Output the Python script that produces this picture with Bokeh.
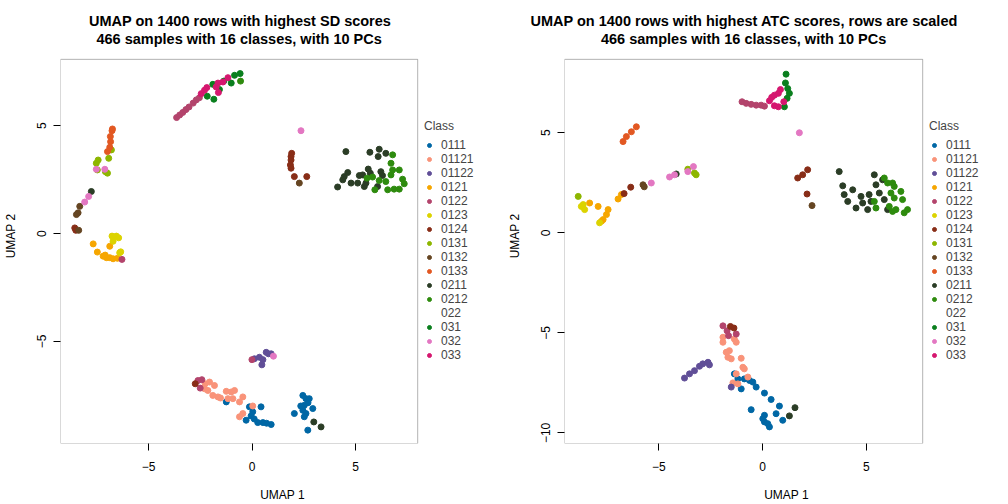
from bokeh.plotting import figure
from bokeh.layouts import row
from bokeh.models import (Legend, LegendItem, FixedTicker, Range1d, ColumnDataSource,
                          BoxAnnotation, Label, Title)
from bokeh.embed import file_html
from bokeh.resources import INLINE

CLASSES = ["0111", "01121", "01122", "0121", "0122", "0123", "0124", "0131",
           "0132", "0133", "0211", "0212", "022", "031", "032", "033"]
COLORS = ["#0067A5", "#F99379", "#604E97", "#F6A600", "#B3446C", "#DCD300", "#882D17", "#8DB600",
          "#654522", "#E25822", "#2B3D26", "#2E8B0E", "#FFFFFF", "#0A7F1E", "#E377C2", "#D5176F"]

TITLE_SD = ["UMAP on 1400 rows with highest SD scores", "466 samples with 16 classes, with 10 PCs"]
TITLE_ATC = ["UMAP on 1400 rows with highest ATC scores, rows are scaled", "466 samples with 16 classes, with 10 PCs"]
X_LABEL = "UMAP 1"
Y_LABEL = "UMAP 2"
SD_XTICKS = [-5, 0, 5]
SD_YTICKS = [-5, 0, 5]
ATC_XTICKS = [-5, 0, 5]
ATC_YTICKS = [-10, -5, 0, 5]

# ---------------- SD panel ----------------
SD_0111_X = [-1.25, -0.13, 0.03, -0.05, 0.43, -0.29, 0.27, 0.52, 0.92, 2.45, 2.60, 2.76, 2.52, 2.45, 2.04, 2.60, 2.93, 2.52, 2.69, 0.70, 0.10, 2.35, 2.70]
SD_0111_Y = [-7.81, -8.04, -8.27, -8.46, -8.04, -8.66, -8.77, -8.77, -8.86, -7.51, -7.66, -7.66, -7.97, -8.20, -8.35, -8.35, -8.12, -8.50, -9.12, -8.80, -8.60, -8.00, -7.85]
SD_01121_X = [-2.27, -2.06, -2.30, -2.14, -1.82, -1.90, -1.65, -1.25, -1.01, -0.85, -0.93, -1.17, -0.61, -0.45, -0.45, -0.61, 0.03, -1.53]
SD_01121_Y = [-6.97, -6.89, -7.20, -7.28, -7.05, -7.51, -7.58, -7.32, -7.35, -7.28, -7.66, -7.66, -7.81, -7.58, -8.35, -8.50, -8.00, -7.63]
SD_01122_X = [0.11, 0.35, 0.52, 0.68, 0.79, 0.92, 0.47]
SD_01122_Y = [-5.81, -5.74, -5.85, -5.51, -5.58, -5.58, -6.09]
SD_0121_X = [-7.68, -7.48, -7.20, -7.04, -6.88, -6.72, -6.51, -6.88, -7.10]
SD_0121_Y = [-0.48, -0.86, -1.05, -1.12, -1.12, -1.17, -1.15, -0.59, -1.00]
SD_0122_X = [-3.65, -3.50, -3.35, -3.20, -3.05, -2.85, -2.70, -2.55, -6.29, -0.01, -2.62, -2.43, -2.51]
SD_0122_Y = [5.38, 5.50, 5.62, 5.75, 5.87, 6.05, 6.20, 6.30, -1.20, -5.85, -6.82, -6.78, -7.17]
SD_0123_X = [-6.77, -6.56, -6.45, -6.72, -6.40, -6.35]
SD_0123_Y = [-0.12, -0.12, -0.20, -0.36, -0.89, -0.85]
SD_0124_X = [-8.57, -8.52, 1.88, 1.88, 1.85, 1.88, 1.91, 2.04, 2.64, -2.75]
SD_0124_Y = [0.26, 0.15, 3.57, 3.41, 3.18, 3.03, 3.72, 2.64, 2.64, -6.97]
SD_0131_X = [-7.44, -7.53, -6.93, -7.48, -7.09, -6.99, -6.80]
SD_0131_Y = [3.41, 3.26, 3.49, 2.95, 2.87, 2.80, 3.88]
SD_0132_X = [-8.33, -8.41, -8.49, -8.38, 2.28]
SD_0132_Y = [1.26, 0.96, 0.88, 0.15, 2.34]
SD_0133_X = [-6.77, -6.84, -6.88, -6.99, -6.85, -6.75]
SD_0133_Y = [4.77, 4.26, 4.00, 3.80, 4.50, 4.85]
SD_0211_X = [4.53, 5.69, 6.14, 6.09, 6.46, 5.61, 5.71, 6.22, 6.30, 5.34, 5.18, 4.78, 4.45, 4.38, 4.13, 5.10, 5.42, 5.50, 6.06, 4.62, -7.77, 2.98, 3.33]
SD_0211_Y = [3.80, 3.77, 3.91, 3.57, 3.72, 2.99, 2.80, 2.87, 2.69, 2.72, 2.69, 2.34, 2.64, 2.49, 2.16, 2.34, 2.18, 2.34, 2.18, 2.83, 1.95, -8.74, -8.97]
SD_0212_X = [6.79, 6.71, 6.79, 7.11, 7.27, 7.35, 7.11, 6.86, 6.55, 6.46, 5.93, 5.82, 6.14, 5.55, 6.71, -0.56]
SD_0212_Y = [3.65, 3.26, 2.95, 2.95, 2.52, 2.31, 2.06, 2.06, 2.03, 2.41, 2.03, 2.62, 2.46, 2.57, 2.72, 7.07]
SD_022_X = []
SD_022_Y = []
SD_031_X = [-1.90, -2.17, -1.85, -1.37, -1.01, -0.85, -0.58, -1.58]
SD_031_Y = [6.92, 6.37, 6.23, 7.07, 6.98, 7.34, 7.42, 6.68]
SD_032_X = [-7.53, -7.12, -7.90, -8.09, 2.36, 1.03]
SD_032_Y = [2.98, 2.98, 1.72, 1.46, 4.77, -5.69]
SD_033_X = [-2.46, -2.30, -2.19, -1.74, -1.63, -1.41, -1.17, -1.65]
SD_033_Y = [6.49, 6.65, 6.77, 6.80, 6.54, 7.03, 7.23, 6.98]

# ---------------- ATC panel ----------------
ATC_0111_X = [-1.36, -1.19, -1.03, -0.88, -0.63, -0.47, -0.31, 0.09, 0.41, 0.81, -0.55, 0.09, 0.09, 0.33, 0.65, 0.97, 0.01, 0.25]
ATC_0111_Y = [-7.05, -7.30, -7.80, -7.30, -7.38, -7.46, -7.71, -8.01, -8.33, -8.66, -8.84, -9.12, -9.45, -9.70, -9.04, -9.37, -9.29, -9.54]
ATC_01121_X = [-1.91, -1.91, -1.36, -1.27, -1.60, -1.67, -1.51, -1.03, -0.95, -0.88, -1.27, -1.43, -1.19, -0.71, -1.75]
ATC_01121_Y = [-5.22, -5.47, -5.31, -5.47, -5.89, -6.22, -6.30, -6.27, -6.72, -6.80, -7.05, -7.50, -7.55, -7.21, -5.97]
ATC_01122_X = [-3.76, -3.52, -3.28, -3.04, -2.88, -2.63, -2.56, -1.51]
ATC_01122_Y = [-7.26, -7.05, -6.89, -6.67, -6.55, -6.47, -6.60, -7.71]
ATC_0121_X = [-8.33, -7.92, -7.44, -7.52, -7.68, -7.76, -6.96, -6.80]
ATC_0121_Y = [1.49, 1.32, 1.16, 0.91, 0.66, 0.58, 1.69, 1.91]
ATC_0122_X = [-0.99, -0.79, -0.55, -0.31, -0.07, 0.09, -1.91, -1.71, -1.64, -1.27]
ATC_0122_Y = [6.55, 6.47, 6.42, 6.38, 6.38, 6.33, -4.65, -4.90, -5.14, -5.06]
ATC_0123_X = [-8.64, -8.57, -8.73, -7.85]
ATC_0123_Y = [1.41, 1.16, 1.32, 0.50]
ATC_0124_X = [-6.35, -6.67, 1.69, 1.93, 2.17, 2.14, -1.55, -1.38]
ATC_0124_Y = [2.28, 1.96, 2.74, 2.90, 3.15, 1.94, -4.68, -4.76]
ATC_0131_X = [-3.28, -3.20, -3.60, -8.88]
ATC_0131_Y = [2.99, 2.90, 3.18, 1.82]
ATC_0132_X = [-5.76, -5.70, 2.38]
ATC_0132_Y = [2.40, 2.30, 1.36]
ATC_0133_X = [-6.08, -6.32, -6.56, -6.72]
ATC_0133_Y = [5.30, 5.05, 4.81, 4.56]
ATC_0211_X = [3.69, 3.86, 3.93, 4.10, 4.34, 4.50, 4.74, 4.82, 5.13, 5.22, 5.06, 5.38, 5.46, 5.62, 5.78, 5.86, 6.02, -4.16, 1.29, 1.56]
ATC_0211_Y = [3.06, 2.35, 1.91, 1.57, 2.15, 1.24, 1.82, 1.49, 1.91, 1.57, 1.16, 2.90, 2.40, 1.99, 2.65, 1.66, 1.16, 2.94, -9.15, -8.74]
ATC_0212_X = [5.86, 6.02, 6.26, 6.34, 6.18, 6.34, 6.66, 6.74, 5.38, 5.46, 6.10, 6.26, 6.42, 6.98, 6.82]
ATC_0212_Y = [2.74, 2.49, 2.49, 2.32, 1.99, 1.74, 2.07, 1.66, 1.57, 1.24, 1.32, 1.07, 1.16, 1.16, 1.00]
ATC_022_X = []
ATC_022_Y = []
ATC_031_X = [1.13, 1.10, 1.21, 1.29, 1.18, 1.05]
ATC_031_Y = [7.93, 7.49, 7.21, 6.97, 6.72, 6.30]
ATC_032_X = [1.77, -4.48, -4.24, -3.60, -3.33, -5.36]
ATC_032_Y = [5.00, 2.79, 2.90, 3.06, 3.31, 2.49]
ATC_033_X = [0.33, 0.44, 0.57, 0.76, 0.86, 1.02, 0.57, 0.76]
ATC_033_Y = [6.60, 6.77, 6.88, 6.97, 7.16, 6.55, 6.35, 6.30]

SD_DATA = {c: (globals()["SD_%s_X" % c], globals()["SD_%s_Y" % c]) for c in CLASSES}
ATC_DATA = {c: (globals()["ATC_%s_X" % c], globals()["ATC_%s_Y" % c]) for c in CLASSES}

FONT = "Liberation Sans"
TITLE_SIZE = "14.5px"
FIG_W = 504
FIG_H = 504
BORDER_LEFT = 59
BORDER_BOTTOM = 59
BORDER_TOP = 28
BOX_TOP = 59        # pixel row of the data box's top edge
SUBTITLE_ROW = 39   # pixel row of the second title line


def make_panel(data, titles, xr, yr, xticks, yticks, box_w, title_w):
    # The frame is larger than the data box (to the right for the legend,
    # upwards for the second title line); the box is drawn as an annotation.
    frame_w = FIG_W - BORDER_LEFT
    frame_h = FIG_H - BORDER_BOTTOM - BORDER_TOP
    box_h = FIG_H - BORDER_BOTTOM - BOX_TOP
    x_end = xr[0] + (xr[1] - xr[0]) * frame_w / box_w
    y_end = yr[0] + (yr[1] - yr[0]) * frame_h / box_h
    p = figure(width=FIG_W, height=FIG_H,
               x_range=Range1d(xr[0], x_end), y_range=Range1d(yr[0], y_end),
               output_backend="svg", toolbar_location=None,
               min_border_left=BORDER_LEFT, min_border_right=0,
               min_border_top=BORDER_TOP, min_border_bottom=BORDER_BOTTOM)
    p.grid.visible = False
    p.background_fill_color = "white"
    p.border_fill_color = "white"
    p.outline_line_color = None

    box = BoxAnnotation(left=xr[0], right=xr[1], bottom=yr[0], top=yr[1],
                        fill_alpha=0, line_color="black", line_width=1)
    p.add_layout(box)

    items = []
    for c, col in zip(CLASSES, COLORS):
        xs, ys = data[c]
        src = ColumnDataSource(dict(x=xs, y=ys))
        alpha = 0.0 if c == "022" else 1.0
        r = p.scatter("x", "y", source=src, size=6, marker="circle",
                      fill_color=col, line_color=col, fill_alpha=alpha, line_alpha=alpha)
        items.append(LegendItem(label=c, renderers=[r]))

    for ax in (p.xaxis[0], p.yaxis[0]):
        ax.axis_line_color = None
        ax.major_tick_line_color = "black"
        ax.major_tick_out = 7
        ax.major_tick_in = 0
        ax.minor_tick_line_color = None
        ax.major_label_text_font = FONT
        ax.major_label_text_font_size = "12px"
        ax.major_label_text_color = "black"
        ax.axis_label_text_font = FONT
        ax.axis_label_text_font_size = "12px"
        ax.axis_label_text_font_style = "normal"
        ax.axis_label_text_color = "black"
    p.xaxis[0].ticker = FixedTicker(ticks=xticks)
    p.yaxis[0].ticker = FixedTicker(ticks=yticks)
    p.xaxis[0].axis_label = X_LABEL
    p.yaxis[0].axis_label = Y_LABEL
    p.xaxis[0].major_label_standoff = 11
    p.xaxis[0].axis_label_standoff = 14
    p.yaxis[0].major_label_orientation = "vertical"
    p.yaxis[0].major_label_standoff = 7
    p.yaxis[0].axis_label_standoff = 17

    legend = Legend(items=items, title="Class", location=(box_w + 6, 81),
                    border_line_color=None, background_fill_alpha=0.0,
                    padding=0, margin=0, spacing=0,
                    glyph_height=12, glyph_width=10, label_height=12,
                    label_standoff=7, label_text_font=FONT, label_text_font_size="12px",
                    title_text_font=FONT, title_text_font_size="12px",
                    title_text_font_style="normal", title_standoff=5)
    p.add_layout(legend)

    # first title line: a real Title (not clipped), left-anchored so that it is
    # centred over the data box (title_w = approximate rendered text width)
    p.add_layout(Title(text=titles[0], align="left", offset=box_w / 2 - title_w / 2,
                       text_font=FONT, text_font_size=TITLE_SIZE, text_font_style="bold",
                       text_color="black", standoff=0), "above")
    # second title line inside the (extended) frame
    ppu = box_h / (yr[1] - yr[0])
    ty = yr[0] + (FIG_H - BORDER_BOTTOM - SUBTITLE_ROW) / ppu
    p.add_layout(Label(x=(xr[0] + xr[1]) / 2, y=ty, text=titles[1], text_align="center",
                       text_baseline="middle", text_font=FONT, text_font_size=TITLE_SIZE,
                       text_font_style="bold", text_color="black"))
    return p


p1 = make_panel(SD_DATA, TITLE_SD, (-9.26, 8.0), (-9.74, 8.08), SD_XTICKS, SD_YTICKS, 358, 301)
p2 = make_panel(ATC_DATA, TITLE_ATC, (-9.54, 7.71), (-10.53, 8.67), ATC_XTICKS, ATC_YTICKS, 359, 427)

layout = row(p1, p2)
open("out.html", "w").write(file_html(layout, INLINE))
